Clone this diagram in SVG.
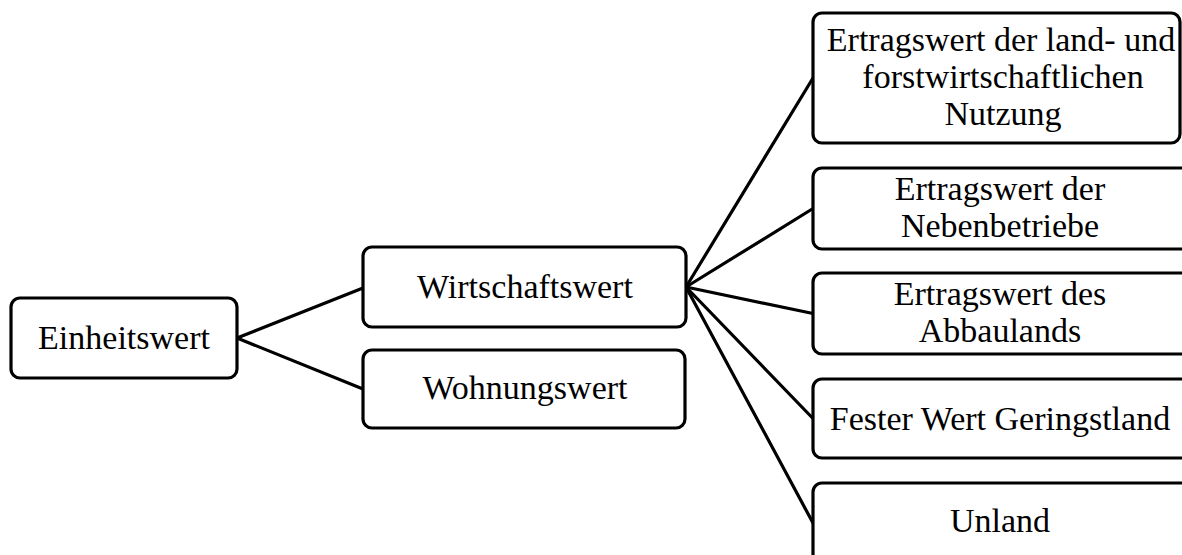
<svg xmlns="http://www.w3.org/2000/svg" width="1182" height="555" viewBox="0 0 1182 555">
  <style>
    .box { fill: #ffffff; stroke: #000000; stroke-width: 3.2; }
    .lbl { font-family: "Liberation Serif", "Times New Roman", serif; font-size: 34px; fill: #000000; text-anchor: middle; }
    .edge { stroke: #000000; stroke-width: 3.2; fill: none; stroke-linecap: round; }
  </style>
  <rect width="1182" height="555" fill="#ffffff"/>
  <g id="connectors">
    <line class="edge" x1="237" y1="338" x2="363" y2="288"/>
    <line class="edge" x1="237" y1="338" x2="363" y2="389"/>
    <line class="edge" x1="686" y1="287" x2="813" y2="78"/>
    <line class="edge" x1="686" y1="287" x2="813" y2="208.5"/>
    <line class="edge" x1="686" y1="287" x2="813" y2="313.5"/>
    <line class="edge" x1="686" y1="287" x2="813" y2="418.5"/>
    <line class="edge" x1="686" y1="287" x2="813" y2="523"/>
  </g>
  <g id="einheitswert">
    <rect class="box" x="11" y="298" width="226" height="80" rx="9"/>
    <text class="lbl" x="124" y="349">Einheitswert</text>
  </g>
  <g id="wirtschaftswert">
    <rect class="box" x="363" y="247" width="323" height="80" rx="9"/>
    <text class="lbl" x="525" y="298">Wirtschaftswert</text>
  </g>
  <g id="wohnungswert">
    <rect class="box" x="363" y="350" width="322" height="78" rx="9"/>
    <text class="lbl" x="525" y="399">Wohnungswert</text>
  </g>
  <g id="ertragswert-nutzung">
    <rect class="box" x="813" y="13" width="367" height="130" rx="9"/>
    <text class="lbl" x="1001" y="51">Ertragswert der land- und</text>
    <text class="lbl" x="1003" y="88">forstwirtschaftlichen</text>
    <text class="lbl" x="1003" y="125">Nutzung</text>
  </g>
  <g id="ertragswert-nebenbetriebe">
    <rect class="box" x="813" y="168" width="390" height="81" rx="9"/>
    <text class="lbl" x="1000" y="200">Ertragswert der</text>
    <text class="lbl" x="1000" y="237">Nebenbetriebe</text>
  </g>
  <g id="ertragswert-abbauland">
    <rect class="box" x="813" y="273" width="390" height="81" rx="9"/>
    <text class="lbl" x="1000" y="305">Ertragswert des</text>
    <text class="lbl" x="1000" y="342">Abbaulands</text>
  </g>
  <g id="geringstland">
    <rect class="box" x="813" y="379" width="390" height="79" rx="9"/>
    <text class="lbl" x="1000" y="430">Fester Wert Geringstland</text>
  </g>
  <g id="unland">
    <rect class="box" x="813" y="483" width="390" height="82" rx="9"/>
    <text class="lbl" x="1000" y="532">Unland</text>
  </g>
</svg>
